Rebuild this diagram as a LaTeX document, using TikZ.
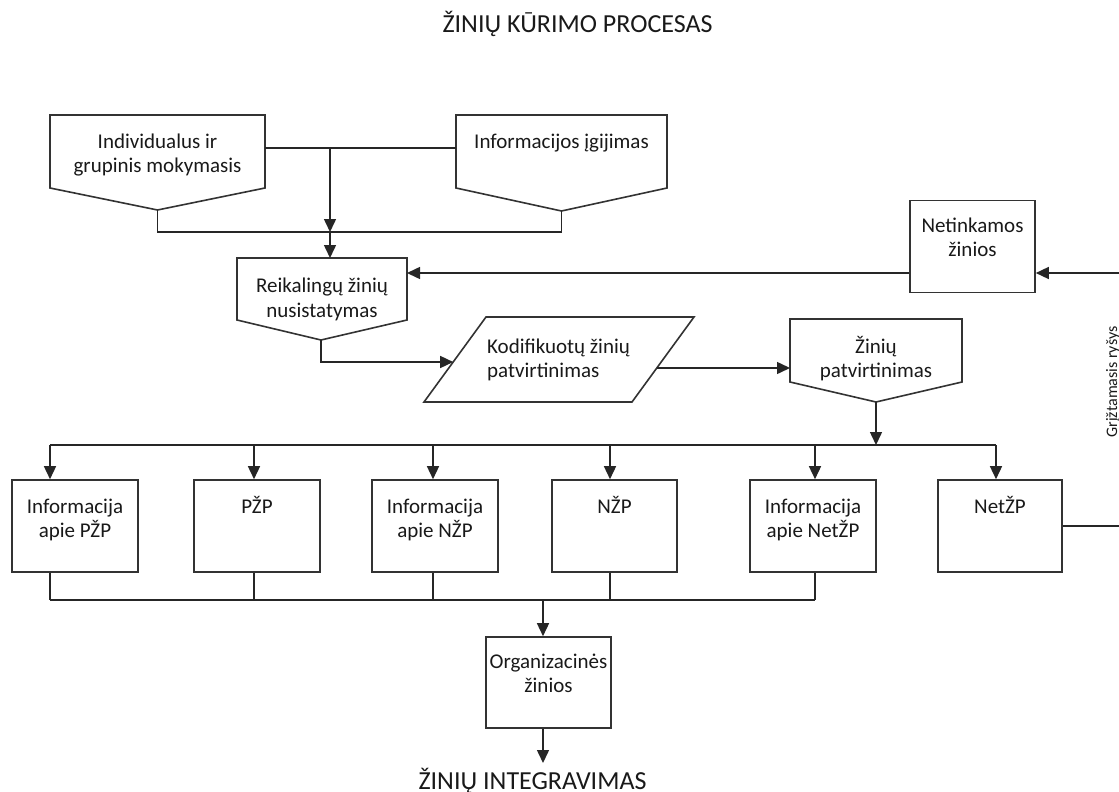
\documentclass[tikz,border=0pt]{standalone}
\usepackage{fontspec}
\setmainfont{Carlito}
\usetikzlibrary{arrows.meta}
\begin{document}
\begin{tikzpicture}[x=1pt,y=-1pt,
  shp/.style={draw=black!80,line width=1.6pt,line join=miter},
  con/.style={draw=black!85,line width=1.5pt},
  arr/.style={con,-{Triangle[width=12pt,length=13pt]}},
  txt/.style={font=\fontsize{21}{24.5}\selectfont,align=center,inner sep=0pt,text=black!90,anchor=north,text height=14pt},
  box/.style={shp,inner sep=0pt,minimum width=126pt,minimum height=92pt}]
\useasboundingbox (0,0) rectangle (1119,792);

% titles
\node[font=\fontsize{26}{30}\selectfont,anchor=base,inner sep=0pt,text=black!90] (title) at (577.5,33) {ŽINIŲ KŪRIMO PROCESAS};
\node[font=\fontsize{26}{30}\selectfont,anchor=base,inner sep=0pt,text=black!90] (integ) at (532.5,789) {ŽINIŲ INTEGRAVIMAS};
\node[font=\fontsize{16}{19}\selectfont,rotate=90,anchor=base,inner sep=0pt,text=black!90] (fbtxt) at (1117,382) {Grįžtamasis ryšys};

% top pentagons
\draw[shp] (50,115) -- (265,115) -- (265,188) -- (157.5,210) coordinate (indtip) -- (50,188) -- cycle;
\coordinate (inde) at (265,148);
\node[txt] (ind) at (157.5,158.5) {Individualus ir\\grupinis mokymasis};

\draw[shp] (456,115) -- (667,115) -- (667,188) -- (561.5,211) coordinate (infotip) -- (456,188) -- cycle;
\coordinate (infow) at (456,148);
\node[txt] (info) at (561.5,134) {Informacijos įgijimas};

\coordinate (j1) at (330,148);
\coordinate (j2) at (330,232);
\draw[con] (inde) -- (infow);
\draw[arr] (j1) -- (j2);
\draw[con] (indtip) |- (j2) -| (infotip);

% Reikalingu
\draw[shp] (237,258) -- (407,258) -- (407,320) -- (321,340) coordinate (reqtip) -- (237,320) -- cycle;
\coordinate (reqn) at (330,258);
\coordinate (reqe) at (407,273);
\draw[arr] (j2) -- (reqn);
\node[txt] (req) at (322,303) {Reikalingų žinių\\nusistatymas};

% parallelogram
\draw[shp] (486,317) -- (694,317) -- (632,402) -- (424,402) -- cycle;
\coordinate (kodw) at (453.2,362);
\coordinate (kode) at (656.8,368);
\draw[arr] (reqtip) |- (kodw);
\node[txt,align=left,anchor=north west] (kod) at (487,363.5) {Kodifikuotų žinių\\patvirtinimas};

% Ziniu patvirtinimas
\draw[shp] (790,319) -- (962,319) -- (962,382) -- (876,402) coordinate (zptip) -- (790,382) -- cycle;
\coordinate (zpw) at (790,368);
\draw[arr] (kode) -- (zpw);
\node[txt] (zp) at (876,363.5) {Žinių\\patvirtinimas};

% Netinkamos
\node[box,minimum width=125pt,minimum height=92pt] (netk) at (972.5,246.5) {};
\node[txt] (netkt) at (972.5,242.5) {Netinkamos\\žinios};
\draw[arr] (netk.west |- reqe) -- (reqe);

% bottom boxes
\node[box] (b1) at (75,526) {};
\node[box] (b2) at (257,526) {};
\node[box] (b3) at (435,526) {};
\node[box,minimum width=125pt] (b4) at (614.5,526) {};
\node[box] (b5) at (813,526) {};
\node[box,minimum width=124pt] (b6) at (1000,526) {};
\node[txt] (b1t) at (75,523.5) {Informacija\\apie PŽP};
\node[txt] (b2t) at (257,499) {PŽP};
\node[txt] (b3t) at (435,523.5) {Informacija\\apie NŽP};
\node[txt] (b4t) at (614.5,499) {NŽP};
\node[txt] (b5t) at (813,523.5) {Informacija\\apie NetŽP};
\node[txt] (b6t) at (1000,499) {NetŽP};

% distribution
\coordinate (d0) at (876,445);
\coordinate (a1) at (50,445);
\coordinate (a2) at (254,445);
\coordinate (a3) at (433,445);
\coordinate (a4) at (610,445);
\coordinate (a5) at (815,445);
\coordinate (a6) at (996,445);
\draw[arr] (zptip) -- (d0);
\draw[con] (a1) -- (a6);
\draw[arr] (a1) -- (a1 |- b1.north);
\draw[arr] (a2) -- (a2 |- b2.north);
\draw[arr] (a3) -- (a3 |- b3.north);
\draw[arr] (a4) -- (a4 |- b4.north);
\draw[arr] (a5) -- (a5 |- b5.north);
\draw[arr] (a6) -- (a6 |- b6.north);

% collection
\coordinate (m) at (543,600);
\draw[con] (a1 |- b1.south) -- (a1 |- m);
\draw[con] (a2 |- b2.south) -- (a2 |- m);
\draw[con] (a3 |- b3.south) -- (a3 |- m);
\draw[con] (a4 |- b4.south) -- (a4 |- m);
\draw[con] (a5 |- b5.south) -- (a5 |- m);
\draw[con] (a1 |- m) -- (a5 |- m);

% Organizacines
\node[box,minimum width=125pt,minimum height=91pt] (org) at (548.5,682.5) {};
\node[txt] (orgt) at (548.5,678.5) {Organizacinės\\žinios};
\draw[arr] (m) -- (m |- org.north);
\coordinate (out) at (543,763);
\draw[arr] (m |- org.south) -- (out);

% feedback
\coordinate (fbc) at (1121,400);
\draw[arr] (b6.east) -| (fbc) |- (netk.east |- reqe);
\end{tikzpicture}
\end{document}
